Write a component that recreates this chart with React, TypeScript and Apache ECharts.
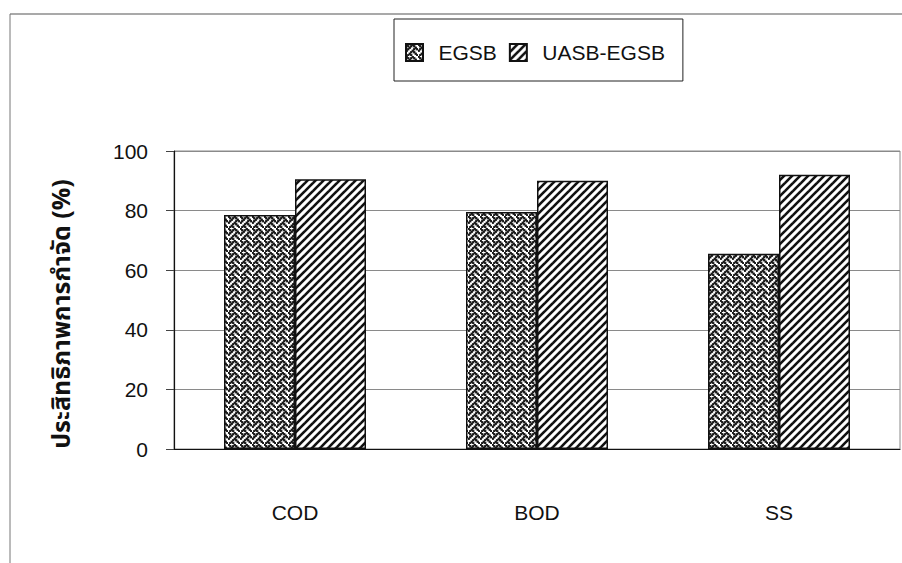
import React, { useEffect, useRef } from "react";
import * as echarts from "echarts";

const categories = ["COD", "BOD", "SS"];
const egsb = [78.5, 79.5, 65.5];
const uasbEgsb = [90.5, 90, 92];
const seriesNames = ["EGSB", "UASB-EGSB"];
const yTitle = "ประสิทธิภาพการกำจัด (%)";

const FONT = "'Liberation Sans', Arial, sans-serif";

// Excel-style "weave" fill, 8x8 bitmap scaled up
function weaveTile(): HTMLCanvasElement {
  const rows = [0x88, 0x54, 0x22, 0x45, 0x88, 0x14, 0x22, 0x51];
  const s = 1.5;
  const size = 12;
  const c = document.createElement("canvas");
  c.width = size;
  c.height = size;
  const ctx = c.getContext("2d")!;
  ctx.fillStyle = "#ffffff";
  ctx.fillRect(0, 0, size, size);
  ctx.fillStyle = "#141414";
  rows.forEach((r, y) => {
    for (let x = 0; x < 8; x++) {
      if (r & (0x80 >> x)) ctx.fillRect(x * s - 0.4, y * s - 0.4, s + 0.8, s + 0.8);
    }
  });
  return c;
}

// wide upward diagonal stripes
function stripeTile(): HTMLCanvasElement {
  const size = 8;
  const c = document.createElement("canvas");
  c.width = size;
  c.height = size;
  const ctx = c.getContext("2d")!;
  ctx.fillStyle = "#ffffff";
  ctx.fillRect(0, 0, size, size);
  ctx.strokeStyle = "#111111";
  ctx.lineWidth = 2.6;
  ctx.lineCap = "square";
  const seg = (x1: number, y1: number, x2: number, y2: number) => {
    ctx.beginPath();
    ctx.moveTo(x1, y1);
    ctx.lineTo(x2, y2);
    ctx.stroke();
  };
  seg(-2, size + 2, size + 2, -2);
  seg(-size / 2 - 2, size / 2 + 2, size / 2 + 2, -size / 2 - 2);
  seg(size / 2 - 2, size * 1.5 + 2, size * 1.5 + 2, size / 2 - 2);
  return c;
}

export default function App() {
  const ref = useRef<HTMLDivElement>(null);

  useEffect(() => {
    if (!ref.current) return;
    const chart = echarts.init(ref.current, null, { renderer: "svg" });
    const weave = { image: weaveTile(), repeat: "repeat", imageWidth: 12, imageHeight: 12 };
    const stripes = { image: stripeTile(), repeat: "repeat", imageWidth: 8, imageHeight: 8 };

    chart.setOption({
      animation: false,
      backgroundColor: "#ffffff",
      grid: {
        left: 174,
        right: 2,
        top: 151,
        bottom: 114,
        show: true,
        borderColor: "#8a8a8a",
        borderWidth: 1,
      },
      legend: {
        data: seriesNames,
        left: 394,
        top: 19,
        orient: "horizontal",
        padding: [23, 18, 18, 11],
        itemWidth: 17,
        itemHeight: 17,
        itemGap: 12,
        borderColor: "#222",
        borderWidth: 1,
        icon: "rect",
        formatter: (name: string) => "\u2002" + name,
        textStyle: { fontFamily: FONT, fontSize: 21, color: "#111" },
      },
      xAxis: {
        type: "category",
        data: categories,
        axisLine: { lineStyle: { color: "#111", width: 1.2 } },
        axisTick: { show: false },
        axisLabel: { fontFamily: FONT, fontSize: 21, color: "#111", margin: 53 },
      },
      yAxis: {
        type: "value",
        min: 0,
        max: 100,
        interval: 20,
        axisLine: { show: true, lineStyle: { color: "#111", width: 1.2 } },
        axisTick: { show: true, length: 8, lineStyle: { color: "#444" } },
        axisLabel: { fontFamily: FONT, fontSize: 21, color: "#111", margin: 26 },
        splitLine: { lineStyle: { color: "#8a8a8a", width: 1 } },
      },
      graphic: [
        {
          type: "line",
          shape: { x1: 10, y1: 14, x2: 902, y2: 14 },
          style: { stroke: "#555", lineWidth: 1.2 },
        },
        {
          type: "line",
          shape: { x1: 10, y1: 14, x2: 10, y2: 563 },
          style: { stroke: "#777", lineWidth: 1 },
        },
        {
          type: "text",
          x: 62,
          y: 314,
          rotation: Math.PI / 2,
          style: {
            text: yTitle,
            fontFamily: "'Noto Sans Thai', 'Noto Sans', 'DejaVu Sans', sans-serif",
            fontWeight: "bold",
            fontSize: 25,
            fill: "#111",
            align: "center",
            verticalAlign: "middle",
          },
        },
      ],
      series: [
        {
          name: seriesNames[0],
          type: "bar",
          data: egsb,
          barWidth: 71,
          barGap: "0%",
          itemStyle: { color: weave, borderColor: "#111", borderWidth: 1.5 },
        },
        {
          name: seriesNames[1],
          type: "bar",
          data: uasbEgsb,
          barWidth: 71,
          barGap: "0%",
          itemStyle: { color: stripes, borderColor: "#111", borderWidth: 1.5 },
        },
      ],
    });
    return () => chart.dispose();
  }, []);

  return (
    <div
      ref={ref}
      style={{ position: "fixed", left: 0, top: 0, width: 902, height: 563 }}
    />
  );
}
